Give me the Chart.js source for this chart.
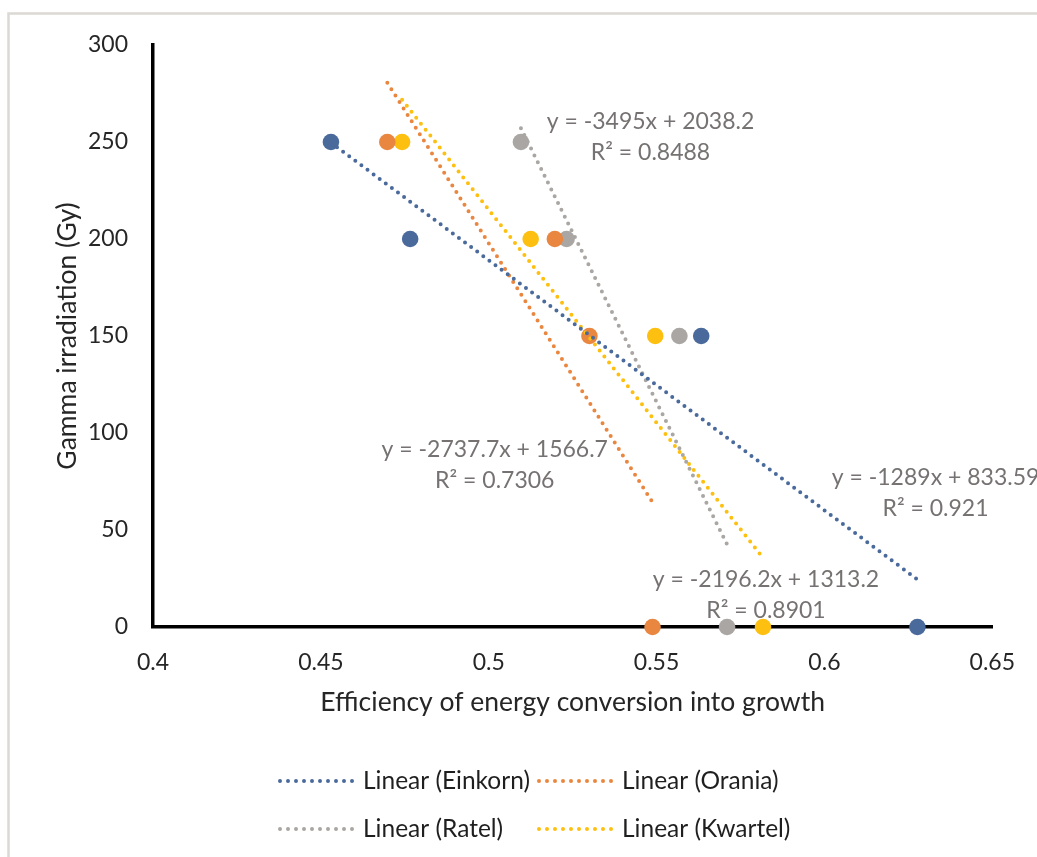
<!DOCTYPE html>
<html><head><meta charset="utf-8">
<script src="https://cdn.jsdelivr.net/npm/chart.js@4/dist/chart.umd.min.js"></script>
<style>html,body{margin:0;padding:0;background:#fff;overflow:hidden}#wrap{width:1037px;height:857px;position:relative}</style>
</head><body><div id="wrap"><canvas id="c" width="1037" height="857"></canvas></div>
<script>
// ---- data ----
const seriesNames = ['Einkorn', 'Orania', 'Ratel', 'Kwartel'];
const doseGy = [250, 200, 150, 0];
const einkornEff = [0.453, 0.4766, 0.5633, 0.6277];
const oraniaEff = [0.4698, 0.5197, 0.5300, 0.5488];
const ratelEff = [0.5096, 0.5232, 0.5568, 0.5710];
const kwartelEff = [0.4742, 0.5125, 0.5496, 0.5817];
const trendSlope = [-1289, -2737.7, -3495, -2196.2];
const trendIntercept = [833.59, 1566.7, 2038.2, 1313.2];
const trendR2 = ['0.921', '0.7306', '0.8488', '0.8901'];
const xTicks = [0.4, 0.45, 0.5, 0.55, 0.6, 0.65];
const yTicks = [0, 50, 100, 150, 200, 250, 300];
const xTitle = 'Efficiency of energy conversion into growth';
const yTitle = 'Gamma irradiation (Gy)';

// ---- styling ----
const colors = ['#4a6a9b', '#e98741', '#a9a6a3', '#fdc010'];
const FONT = 'Lato';
const effBySeries = [einkornEff, oraniaEff, ratelEff, kwartelEff];

const pointSets = seriesNames.map((n, i) => ({
  type: 'scatter',
  label: n,
  data: effBySeries[i].map((x, k) => ({x: x, y: doseGy[k]})),
  backgroundColor: colors[i],
  borderColor: colors[i],
  borderWidth: 0,
  pointRadius: 8.3,
  pointHoverRadius: 8.3,
  clip: false,
  order: 2
}));
const trendSets = seriesNames.map((n, i) => {
  const xs = effBySeries[i];
  const x0 = Math.min(...xs), x1 = Math.max(...xs);
  return {
    type: 'scatter',
    showLine: true,
    label: 'Linear (' + n + ')',
    data: [{x: x0, y: trendSlope[i] * x0 + trendIntercept[i]}, {x: x1, y: trendSlope[i] * x1 + trendIntercept[i]}],
    borderColor: colors[i],
    backgroundColor: colors[i],
    borderWidth: 4,
    borderDash: [0, 7.6],
    borderCapStyle: 'round',
    pointRadius: 0,
    pointHoverRadius: 0,
    clip: false,
    order: 1
  };
});

const decoPlugin = {
  id: 'deco',
  beforeDraw(chart) {
    const ctx = chart.ctx;
    ctx.save();
    ctx.strokeStyle = '#dcd8d4';
    ctx.lineWidth = 2.5;
    ctx.beginPath();
    ctx.moveTo(8.5, 857); ctx.lineTo(8.5, 13.5); ctx.lineTo(1037, 13.5);
    ctx.stroke();
    ctx.restore();
  },
  afterDatasetsDraw(chart, args, opts) {
    const ctx = chart.ctx, xs = chart.scales.x, ys = chart.scales.y;
    ctx.save();
    ctx.font = opts.fontSize + 'px ' + FONT;
    ctx.fillStyle = '#767272';
    ctx.textAlign = 'center';
    ctx.textBaseline = 'middle';
    opts.anchors.forEach((a, i) => {
      const px = xs.getPixelForValue(a[0]);
      const py = ys.getPixelForValue(a[1]);
      ctx.fillText('y = ' + trendSlope[i] + 'x + ' + trendIntercept[i], px, py);
      ctx.fillText('R² = ' + trendR2[i], px, py + opts.lineGap);
    });
    ctx.restore();
  },
  afterDraw(chart, args, opts) {
    const ctx = chart.ctx;
    ctx.save();
    ctx.font = opts.legendFontSize + 'px ' + FONT;
    ctx.textBaseline = 'middle';
    ctx.textAlign = 'left';
    trendSets.forEach((ds, i) => {
      const col = i % 2, row = Math.floor(i / 2);
      const x0 = opts.legendCols[col], y = opts.legendRows[row];
      ctx.strokeStyle = ds.borderColor;
      ctx.lineWidth = 4;
      ctx.lineCap = 'round';
      ctx.setLineDash([0, 8]);
      ctx.beginPath(); ctx.moveTo(x0, y); ctx.lineTo(x0 + 73, y); ctx.stroke();
      ctx.setLineDash([]);
      ctx.fillStyle = '#1f1f1f';
      ctx.fillText(ds.label, x0 + 83, y);
    });
    ctx.restore();
  }
};

new Chart(document.getElementById('c'), {
  type: 'scatter',
  data: {datasets: [...trendSets, ...pointSets]},
  plugins: [decoPlugin],
  options: {
    responsive: false,
    animation: false,
    devicePixelRatio: 1,
    layout: {padding: {left: 0, top: 45, right: 42, bottom: 130}},
    plugins: {
      legend: {display: false},
      tooltip: {enabled: false},
      deco: {
        fontSize: 23,
        lineGap: 31,
        anchors: [[0.6331, 76.8], [0.5018, 91.2], [0.5482, 260.3], [0.5826, 24.2]],
        legendFontSize: 24.5,
        legendCols: [280, 539],
        legendRows: [781, 829]
      }
    },
    scales: {
      x: {
        type: 'linear', position: 'bottom', min: 0.4, max: 0.65,
        afterBuildTicks: s => { s.ticks = xTicks.map(v => ({value: v})); },
        afterFit: s => { s.height = 100; },
        grid: {display: false, drawTicks: false},
        border: {display: true, color: '#000', width: 3.5},
        ticks: {padding: 22, color: '#262626', font: {family: FONT, size: 23}, callback: v => String(v), maxRotation: 0},
        title: {display: true, text: xTitle, color: '#262626', font: {family: FONT, size: 26.5}, padding: {top: 0, bottom: 9}}
      },
      y: {
        type: 'linear', position: 'left', min: 0, max: 300,
        afterBuildTicks: s => { s.ticks = yTicks.map(v => ({value: v})); },
        afterFit: s => { s.width = 153; },
        grid: {display: false, drawTicks: false},
        border: {display: true, color: '#000', width: 3.5},
        ticks: {padding: 25, color: '#262626', font: {family: FONT, size: 23}, callback: v => String(v)},
        title: {display: true, text: yTitle, color: '#262626', font: {family: FONT, size: 26.5}, padding: {top: 52, bottom: 0}}
      }
    }
  }
});
</script></body></html>
